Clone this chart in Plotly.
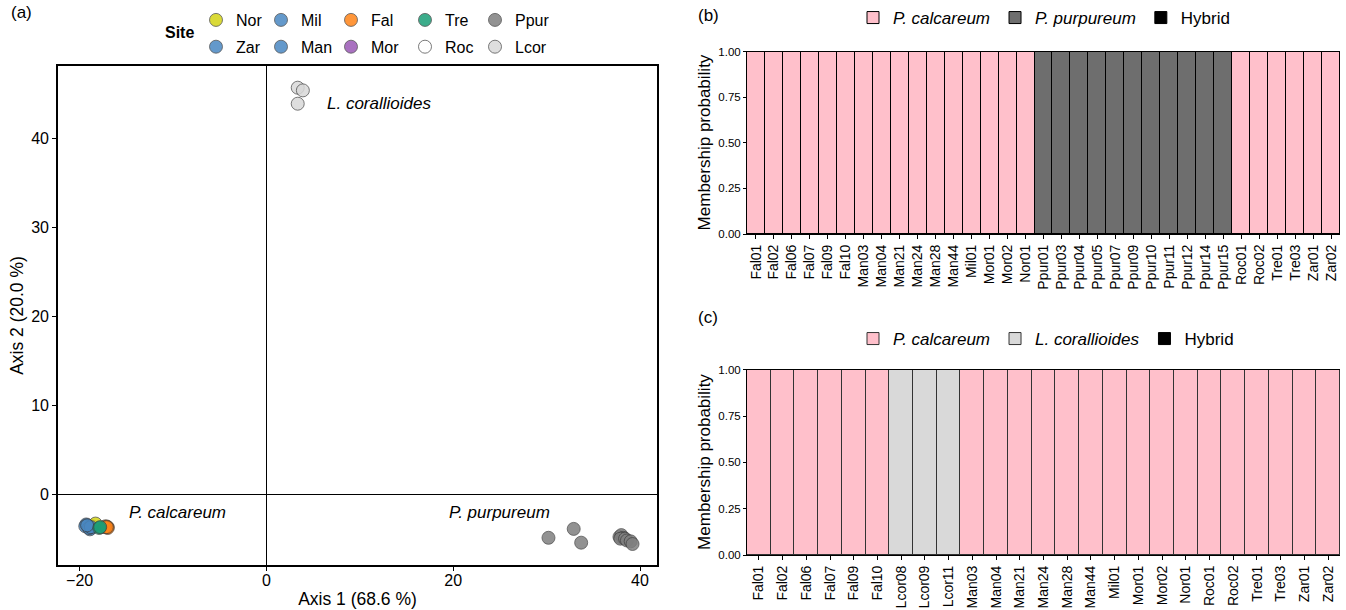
import plotly.graph_objects as go

# ---------------- Panel (a) data: PCA coordinates by site ----------------
legend_columns = [["Nor", "Zar"], ["Mil", "Man"], ["Fal", "Mor"], ["Tre", "Roc"], ["Ppur", "Lcor"]]
draw_order = ["Roc", "Mor", "Nor", "Mil", "Zar", "Man", "Fal", "Tre", "Ppur", "Lcor"]
site_colors = {
    "Nor": "#D4D416", "Mil": "#4A88C2", "Fal": "#FF8418", "Tre": "#1B9E77",
    "Ppur": "#7F7F7F", "Zar": "#4A88C2", "Man": "#4A88C2", "Mor": "#9B59B6",
    "Roc": "#FFFFFF", "Lcor": "#D9D9D9",
}
site_x = {
    "Nor": [-18.3],
    "Mil": [-19.1],
    "Fal": [-17.0, -17.1, -17.2, -17.0, -17.3, -17.1],
    "Tre": [-17.9, -17.8],
    "Ppur": [30.2, 32.9, 33.7, 37.8, 38.0, 38.2, 37.9, 38.4, 38.6, 39.0, 39.2],
    "Zar": [-19.2, -19.0],
    "Man": [-19.3, -18.9, -19.4, -19.0, -18.8, -19.2],
    "Mor": [-18.8, -18.9],
    "Roc": [-18.7, -18.6],
    "Lcor": [3.35, 3.9, 3.35],
}
site_y = {
    "Nor": [-3.3],
    "Mil": [-3.6],
    "Fal": [-3.7, -3.7, -3.6, -3.8, -3.7, -3.7],
    "Tre": [-3.8, -3.7],
    "Ppur": [-4.9, -3.9, -5.45, -4.8, -4.6, -4.9, -5.0, -5.0, -5.2, -5.3, -5.6],
    "Zar": [-3.5, -3.7],
    "Man": [-3.4, -3.95, -3.6, -3.8, -3.7, -3.5],
    "Mor": [-3.8, -3.7],
    "Roc": [-3.6, -3.7],
    "Lcor": [45.7, 45.4, 43.9],
}
x_ticks_a = [-20, 0, 20, 40]
y_ticks_a = [0, 10, 20, 30, 40]

# ---------------- Panel (b) data ----------------
b_samples = ["Fal01", "Fal02", "Fal06", "Fal07", "Fal09", "Fal10", "Man03", "Man04",
             "Man21", "Man24", "Man28", "Man44", "Mil01", "Mor01", "Mor02", "Nor01",
             "Ppur01", "Ppur03", "Ppur04", "Ppur05", "Ppur07", "Ppur09", "Ppur10",
             "Ppur11", "Ppur12", "Ppur14", "Ppur15", "Roc01", "Roc02", "Tre01",
             "Tre03", "Zar01", "Zar02"]
b_calcareum = [1.0] * 16 + [0.0] * 11 + [1.0] * 6
b_purpureum = [0.0] * 16 + [1.0] * 11 + [0.0] * 6
b_hybrid = [0.0] * 33

# ---------------- Panel (c) data ----------------
c_samples = ["Fal01", "Fal02", "Fal06", "Fal07", "Fal09", "Fal10", "Lcor08", "Lcor09",
             "Lcor11", "Man03", "Man04", "Man21", "Man24", "Man28", "Man44", "Mil01",
             "Mor01", "Mor02", "Nor01", "Roc01", "Roc02", "Tre01", "Tre03", "Zar01",
             "Zar02"]
c_calcareum = [1.0] * 6 + [0.0] * 3 + [1.0] * 16
c_corallioides = [0.0] * 6 + [1.0] * 3 + [0.0] * 16
c_hybrid = [0.0] * 25
prob_ticks = [0, 0.25, 0.5, 0.75, 1.0]

W, H = 1346, 610
FONT = "Liberation Sans, Arial, sans-serif"


def px_x(v):
    return v / W


def px_y(v):
    return 1 - v / H


fig = go.Figure()

site_legend = {}
site_rank = {}
for ci, col in enumerate(legend_columns):
    for ri, s in enumerate(col):
        site_legend[s] = "legend" if ci == 0 else "legend%d" % (ci + 1)
        site_rank[s] = ri + 1

for s in draw_order:
    fig.add_trace(go.Scatter(
        x=site_x[s], y=site_y[s], mode="markers", name=s,
        marker=dict(size=13, color=site_colors[s], opacity=0.85,
                    line=dict(color="#3C3C3C", width=0.8)),
        xaxis="x", yaxis="y",
        legend=site_legend[s], legendrank=site_rank[s], legendgroup=s,
        hoverinfo="skip",
    ))

# Panel (b) bars
fig.add_trace(go.Bar(x=b_samples, y=b_calcareum, name="<i>P. calcareum</i>",
                     marker=dict(color="#FFC0CB", line=dict(color="black", width=1)),
                     xaxis="x2", yaxis="y2", legend="legend6"))
fig.add_trace(go.Bar(x=b_samples, y=b_purpureum, name="<i>P. purpureum</i>",
                     marker=dict(color="#6E6E6E", line=dict(color="black", width=1)),
                     xaxis="x2", yaxis="y2", legend="legend6"))
fig.add_trace(go.Bar(x=b_samples, y=b_hybrid, name="Hybrid",
                     marker=dict(color="black", line=dict(color="black", width=1)),
                     xaxis="x2", yaxis="y2", legend="legend6"))

# Panel (c) bars
fig.add_trace(go.Bar(x=c_samples, y=c_calcareum, name="<i>P. calcareum</i>",
                     marker=dict(color="#FFC0CB", line=dict(color="#333333", width=1)),
                     xaxis="x3", yaxis="y3", legend="legend7"))
fig.add_trace(go.Bar(x=c_samples, y=c_corallioides, name="<i>L. corallioides</i>",
                     marker=dict(color="#D9D9D9", line=dict(color="#333333", width=1)),
                     xaxis="x3", yaxis="y3", legend="legend7"))
fig.add_trace(go.Bar(x=c_samples, y=c_hybrid, name="Hybrid",
                     marker=dict(color="black", line=dict(color="black", width=1)),
                     xaxis="x3", yaxis="y3", legend="legend7"))

axis_a = dict(showgrid=False, showline=True, linecolor="black", linewidth=1.6,
              mirror=True, ticks="outside", ticklen=4, tickcolor="black",
              tickfont=dict(size=16, color="black"), automargin=False,
              zeroline=True, zerolinecolor="black", zerolinewidth=1)


def bar_x(n, anchor):
    return dict(domain=[px_x(747), px_x(1340)], range=[-0.5, n - 0.5],
                tickangle=-90, anchor=anchor, showgrid=False, showline=True,
                linecolor="black", linewidth=1, ticks="outside", ticklen=4,
                tickcolor="black", tickfont=dict(size=14, color="black"),
                automargin=False, zeroline=False)


def bar_y(top, bottom, anchor):
    return dict(domain=[px_y(bottom), px_y(top)], range=[0, 1.004],
                tickvals=prob_ticks, tickformat=".2f", anchor=anchor,
                showgrid=False, showline=True, linecolor="black", linewidth=1,
                ticks="outside", ticklen=3, tickcolor="black",
                tickfont=dict(size=11.5, color="black"), automargin=False,
                zeroline=False,
                title=dict(text="Membership probability", font=dict(size=17),
                           standoff=3))


leg_site = dict(orientation="v", xanchor="left", yanchor="middle",
                font=dict(size=16, color="black", family=FONT),
                bgcolor="rgba(0,0,0,0)", itemwidth=30, tracegroupgap=3,
                traceorder="grouped", itemclick=False)
leg_bar = dict(orientation="h", xanchor="left", yanchor="middle",
               font=dict(size=17, color="black", family=FONT),
               bgcolor="rgba(0,0,0,0)", itemwidth=30, traceorder="normal",
               itemclick=False)

legend_col_x = [196, 261, 331, 405, 475]

layout_legends = {}
for ci, lx in enumerate(legend_col_x):
    key = "legend" if ci == 0 else "legend%d" % (ci + 1)
    layout_legends[key] = dict(x=px_x(lx), y=px_y(33.5), **leg_site)
layout_legends["legend6"] = dict(x=px_x(853), y=px_y(18), **leg_bar)
layout_legends["legend7"] = dict(x=px_x(853), y=px_y(339), **leg_bar)

fig.update_layout(
    width=W, height=H,
    margin=dict(l=0, r=0, t=0, b=0),
    paper_bgcolor="white", plot_bgcolor="white",
    font=dict(family=FONT, color="black"),
    barmode="stack", bargap=0,
    xaxis=dict(domain=[px_x(58), px_x(657)], range=[-22.32, 41.82],
               tickvals=x_ticks_a, anchor="y", ticklabelstandoff=-4,
               title=dict(text="Axis 1 (68.6 %)", font=dict(size=17.5), standoff=5),
               **axis_a),
    yaxis=dict(domain=[px_y(565), px_y(66)], range=[-7.96, 48.14],
               tickvals=y_ticks_a, anchor="x",
               title=dict(text="Axis 2 (20.0 %)", font=dict(size=17.5), standoff=3),
               **axis_a),
    xaxis2=bar_x(len(b_samples), "y2"),
    yaxis2=bar_y(51, 234, "x2"),
    xaxis3=bar_x(len(c_samples), "y3"),
    yaxis3=bar_y(369, 555, "x3"),
    annotations=[
        dict(text="(a)", x=px_x(9), y=px_y(13), xref="paper", yref="paper",
             showarrow=False, xanchor="left", yanchor="middle", font=dict(size=17)),
        dict(text="(b)", x=px_x(696), y=px_y(15), xref="paper", yref="paper",
             showarrow=False, xanchor="left", yanchor="middle", font=dict(size=17)),
        dict(text="(c)", x=px_x(696), y=px_y(317), xref="paper", yref="paper",
             showarrow=False, xanchor="left", yanchor="middle", font=dict(size=17)),
        dict(text="<b>Site</b>", x=px_x(163), y=px_y(33), xref="paper", yref="paper",
             showarrow=False, xanchor="left", yanchor="middle", font=dict(size=16)),
        dict(text="<i>L. corallioides</i>", x=px_x(325), y=px_y(103), xref="paper",
             yref="paper", showarrow=False, xanchor="left", yanchor="middle",
             font=dict(size=17)),
        dict(text="<i>P. calcareum</i>", x=px_x(127), y=px_y(512), xref="paper",
             yref="paper", showarrow=False, xanchor="left", yanchor="middle",
             font=dict(size=17)),
        dict(text="<i>P. purpureum</i>", x=px_x(447), y=px_y(512), xref="paper",
             yref="paper", showarrow=False, xanchor="left", yanchor="middle",
             font=dict(size=17)),
    ],
    **layout_legends,
)

fig.write_html(
    "out.html",
    config={"displayModeBar": False},
    post_script="document.body.style.margin='0px';document.body.style.overflow='hidden';",
)
